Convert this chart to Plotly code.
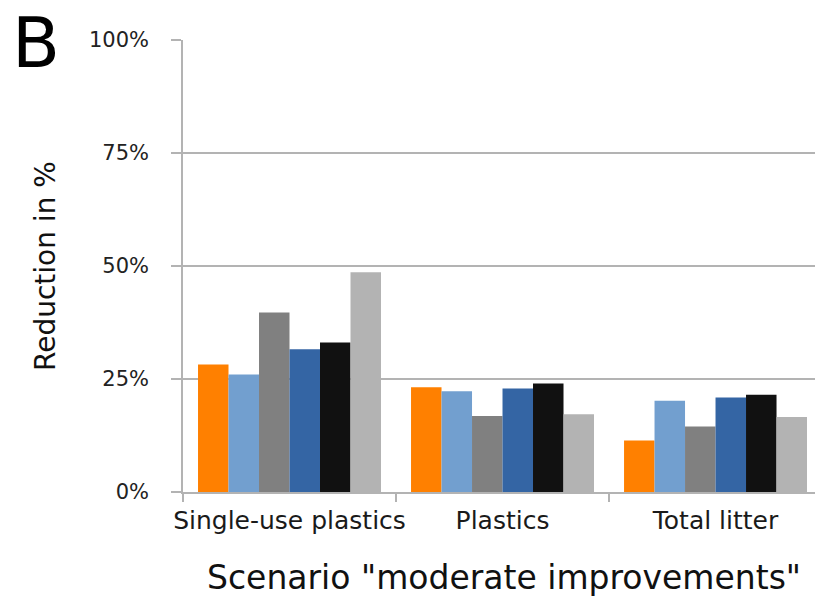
import plotly.graph_objects as go

# Reduction shares (%) per litter category, scenario "moderate improvements"
categories = ["Single-use plastics", "Plastics", "Total litter"]
series_a = [28.2, 23.2, 11.4]   # orange
series_b = [26.0, 22.3, 20.2]   # light blue
series_c = [39.7, 16.8, 14.5]   # gray
series_d = [31.6, 22.9, 20.9]   # blue
series_e = [33.1, 24.0, 21.5]   # black
series_f = [48.6, 17.2, 16.6]   # light gray

y_ticks = [0, 25, 50, 75, 100]
y_tick_labels = ["0%", "25%", "50%", "75%", "100%"]

series = [
    ("Series A", series_a, "#ff8000"),
    ("Series B", series_b, "#729fcf"),
    ("Series C", series_c, "#808080"),
    ("Series D", series_d, "#3465a4"),
    ("Series E", series_e, "#111111"),
    ("Series F", series_f, "#b3b3b3"),
]

FONT = "DejaVu Sans"
AXIS_GRAY = "#b3b3b3"

fig = go.Figure()
for name, vals, color in series:
    fig.add_trace(go.Bar(
        x=categories, y=vals, name=name,
        marker=dict(color=color, line=dict(width=0)),
        showlegend=False,
    ))

fig.update_layout(
    width=815, height=600,
    margin=dict(l=183, r=0, t=40, b=108, autoexpand=False),
    paper_bgcolor="white", plot_bgcolor="white",
    barmode="group", bargap=0.141, bargroupgap=0,
    font=dict(family=FONT, color="#222222"),
    xaxis=dict(
        type="category",
        range=[-0.5, 2.467],
        tickson="boundaries",
        ticks="outside", ticklen=8, tickcolor=AXIS_GRAY, tickwidth=1.5,
        showline=True, linecolor=AXIS_GRAY, linewidth=1.5,
        showgrid=False,
        tickangle=0, automargin=False,
        ticklabelstandoff=5,
        tickfont=dict(family=FONT, size=25, color="#1a1a1a"),
    ),
    yaxis=dict(
        range=[0, 100],
        tickvals=y_ticks, ticktext=y_tick_labels,
        ticks="outside", ticklen=10, tickcolor=AXIS_GRAY, tickwidth=1.5,
        showline=True, linecolor=AXIS_GRAY, linewidth=1.5,
        showgrid=True, gridcolor=AXIS_GRAY, gridwidth=1.5,
        zeroline=False, automargin=False,
        tickfont=dict(family=FONT, size=21, color="#222222"),
        ticklabelstandoff=18,
    ),
    annotations=[
        dict(text="B", xref="paper", yref="paper",
             x=(10 - 183) / 632, y=492 / 452,
             xanchor="left", yanchor="top", showarrow=False,
             font=dict(family=FONT, size=70, color="#000000")),
        dict(text="Reduction in %", xref="paper", yref="paper",
             x=(45 - 183) / 632, y=(492 - 266) / 452,
             xanchor="center", yanchor="middle", textangle=-90,
             showarrow=False,
             font=dict(family=FONT, size=28, color="#111111")),
        dict(text='Scenario "moderate improvements"', xref="paper", yref="paper",
             x=(504 - 183) / 632, y=(492 - 577) / 452,
             xanchor="center", yanchor="middle", showarrow=False,
             font=dict(family=FONT, size=33, color="#111111")),
    ],
)

fig.write_html("out.html")
